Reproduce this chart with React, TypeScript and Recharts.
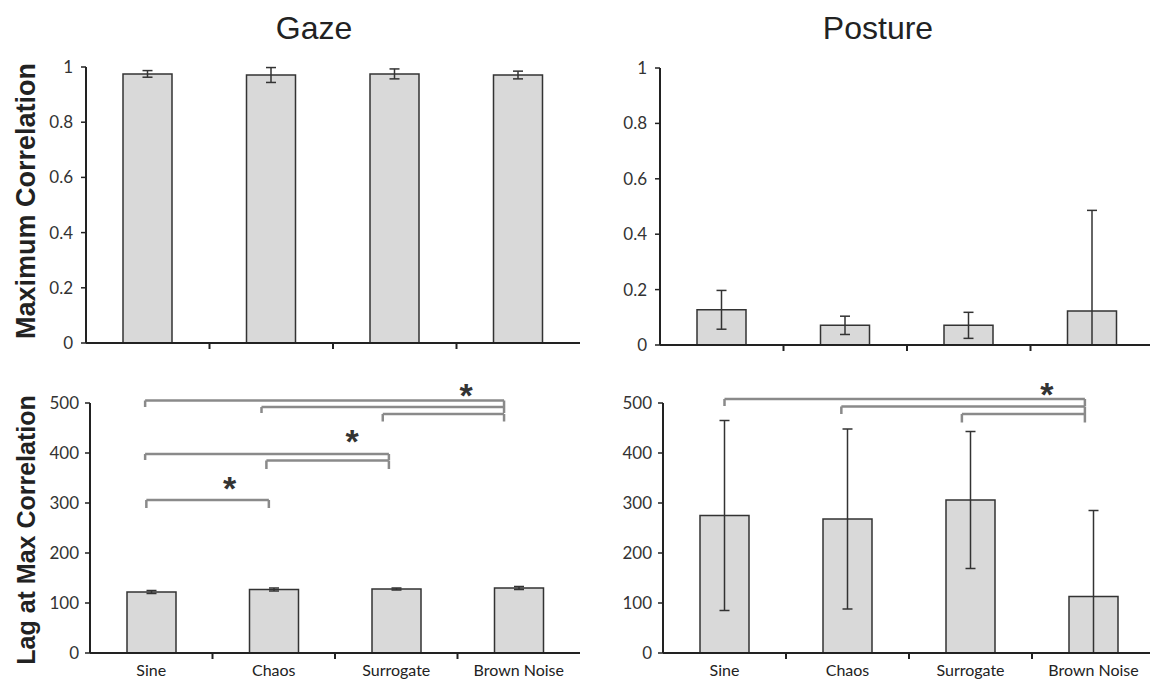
import { BarChart, Bar, XAxis, YAxis, ErrorBar, ReferenceLine, ReferenceDot } from 'recharts';

const categories = ['Sine', 'Chaos', 'Surrogate', 'Brown Noise'];

const gazeCorr = [0.975, 0.971, 0.975, 0.971];
const gazeCorrErr = [0.012, 0.027, 0.018, 0.014];
const postureCorr = [0.127, 0.071, 0.071, 0.123];
const postureCorrErr = [[0.07, 0.07], [0.033, 0.033], [0.047, 0.047], [0.123, 0.363]];

const gazeLag = [122, 127, 128, 130];
const gazeLagErr = [3, 3, 2, 3];
const postureLag = [275, 268, 306, 113];
const postureLagErr = [[190, 190], [180, 180], [137, 137], [113, 172]];

const corrTicks = [0, 0.2, 0.4, 0.6, 0.8, 1];
const lagTicks = [0, 100, 200, 300, 400, 500];

// significance brackets: from/to on a 0..4 category scale, y in data units, drop in data units
const gazeBrackets = [
  { from: 0.45, to: 3.38, y: 505, drop: 13 },
  { from: 1.4, to: 3.38, y: 492, drop: 12 },
  { from: 2.39, to: 3.38, y: 478, drop: 15 },
  { from: 0.45, to: 2.44, y: 398, drop: 12 },
  { from: 1.44, to: 2.44, y: 385, drop: 17 },
  { from: 0.46, to: 1.46, y: 306, drop: 16 },
];
const gazeStars = [
  { x: 3.07, y: 532 },
  { x: 2.14, y: 440 },
  { x: 1.14, y: 346 },
];
const postureBrackets = [
  { from: 0.5, to: 3.43, y: 508, drop: 14 },
  { from: 1.45, to: 3.43, y: 493, drop: 15 },
  { from: 2.43, to: 3.43, y: 478, drop: 17 },
];
const postureStars = [{ x: 3.12, y: 533 }];

const INK = '#222';
const BAR_FILL = '#d9d9d9';
const BRACKET = '#8a8a8a';
const TICK_FONT = 'Lato, "Liberation Sans", sans-serif';
const TITLE_FONT = '"Liberation Sans", Arial, sans-serif';

const TICK_DROP = 6;
const TICK_GAP = 4;

function makeXTick(showLabels: boolean) {
  return (props: any) => {
    const { x, y, payload } = props;
    const v = payload.value;
    const axisY = y - TICK_DROP - TICK_GAP;
    if (Number.isInteger(v)) {
      return <line x1={x} x2={x} y1={axisY} y2={axisY + TICK_DROP} stroke={INK} strokeWidth={2} />;
    }
    if (!showLabels) return <g />;
    return (
      <text x={x} y={axisY + 16} textAnchor="middle" dominantBaseline="central"
        fontFamily={TICK_FONT} fontSize={16} fill={INK}>
        {categories[Math.floor(v)]}
      </text>
    );
  };
}

interface Bracket { from: number; to: number; y: number; drop: number }
interface Star { x: number; y: number }

interface PanelProps {
  left: number;
  top: number;
  width: number;
  height: number;
  marginTop: number;
  axisWidth: number;
  axisHeight: number;
  values: number[];
  errors: (number | number[])[];
  yTicks: number[];
  yMax: number;
  yTitle?: string;
  titleSize?: number;
  titleShift?: number;
  showLabels: boolean;
  tickMargin: number;
  brackets?: Bracket[];
  stars?: Star[];
}

function Panel(p: PanelProps) {
  // each category sits in the middle of its unit slot on a 0..4 scale
  const data = categories.map((name, i) => ({ name, pos: i + 0.5, value: p.values[i], err: p.errors[i] }));
  const xTicks = p.showLabels ? [0.5, 1, 1.5, 2, 2.5, 3, 3.5] : [1, 2, 3];

  const bracketLines = (p.brackets || []).flatMap((b, i) => [
    <ReferenceLine key={`h${i}`} ifOverflow="visible" stroke={BRACKET} strokeWidth={2.5}
      segment={[{ x: b.from, y: b.y }, { x: b.to, y: b.y }]} />,
    <ReferenceLine key={`l${i}`} ifOverflow="visible" stroke={BRACKET} strokeWidth={2.5}
      segment={[{ x: b.from, y: b.y }, { x: b.from, y: b.y - b.drop }]} />,
    <ReferenceLine key={`r${i}`} ifOverflow="visible" stroke={BRACKET} strokeWidth={2.5}
      segment={[{ x: b.to, y: b.y }, { x: b.to, y: b.y - b.drop }]} />,
  ]);

  const starDots = (p.stars || []).map((s, i) => (
    <ReferenceDot key={`s${i}`} x={s.x} y={s.y} r={0} ifOverflow="visible"
      shape={(sp: any) => (
        <text x={sp.cx} y={sp.cy} dy="0.58em" textAnchor="middle" fontFamily={TITLE_FONT}
          fontWeight="bold" fontSize={34} fill="#333">*</text>
      )} />
  ));

  const yTitle = p.yTitle;
  const titleLabel = yTitle
    ? {
        value: yTitle,
        content: (lp: any) => {
          const vb = lp.viewBox;
          const cx = vb.x + 35;
          const cy = vb.y + vb.height / 2 + (p.titleShift || 0);
          return (
            <text x={cx} y={cy} transform={`rotate(-90, ${cx}, ${cy})`} textAnchor="middle"
              fontFamily={TITLE_FONT} fontWeight="bold" fontSize={p.titleSize || 25} fill={INK}>
              {yTitle}
            </text>
          );
        },
      }
    : undefined;

  return (
    <div style={{ position: 'absolute', left: p.left, top: p.top }}>
      <BarChart width={p.width} height={p.height} data={data} barSize={49}
        margin={{ top: p.marginTop, right: 0, bottom: 0, left: 0 }}>
        <XAxis dataKey="pos" type="number" domain={[0, 4]} allowDataOverflow ticks={xTicks}
          interval={0} height={p.axisHeight} tickLine={false} tick={makeXTick(p.showLabels)}
          tickSize={TICK_DROP} tickMargin={TICK_GAP} axisLine={{ stroke: INK, strokeWidth: 2 }} />
        <YAxis type="number" domain={[0, p.yMax]} allowDataOverflow ticks={p.yTicks} interval={0}
          width={p.axisWidth} tickSize={5} tickMargin={p.tickMargin}
          axisLine={{ stroke: INK, strokeWidth: 2 }} tickLine={{ stroke: INK, strokeWidth: 1.5 }}
          tick={{ fontFamily: TICK_FONT, fontSize: 17, fill: '#333' }} label={titleLabel} />
        <Bar dataKey="value" fill={BAR_FILL} stroke="#333" strokeWidth={1.5}
          isAnimationActive={false}>
          <ErrorBar dataKey="err" width={5} stroke="#333" strokeWidth={1.5} />
        </Bar>
        {bracketLines}
        {starDots}
      </BarChart>
    </div>
  );
}

export default function App() {
  return (
    <div style={{ position: 'absolute', left: 0, top: 0, width: 1150, height: 680, overflow: 'hidden', background: '#fff' }}>
      <div style={{ position: 'absolute', left: 214, top: 11, width: 200, textAlign: 'center', fontFamily: TITLE_FONT, fontSize: 32, lineHeight: '34px', color: INK }}>
        Gaze
      </div>
      <div style={{ position: 'absolute', left: 778, top: 11, width: 200, textAlign: 'center', fontFamily: TITLE_FONT, fontSize: 32, lineHeight: '34px', color: INK }}>
        Posture
      </div>
      <Panel left={0} top={0} width={580} height={370} marginTop={67} axisWidth={86} axisHeight={27}
        values={gazeCorr} errors={gazeCorrErr} yTicks={corrTicks} yMax={1}
        yTitle="Maximum Correlation" titleSize={27} titleShift={-4} showLabels={false} tickMargin={8} />
      <Panel left={580} top={0} width={574} height={370} marginTop={68} axisWidth={80} axisHeight={25}
        values={postureCorr} errors={postureCorrErr} yTicks={corrTicks} yMax={1}
        showLabels={false} tickMargin={8} />
      <Panel left={0} top={370} width={580} height={310} marginTop={33} axisWidth={90} axisHeight={27}
        values={gazeLag} errors={gazeLagErr} yTicks={lagTicks} yMax={500}
        yTitle="Lag at Max Correlation" titleSize={25} titleShift={2} showLabels={true} tickMargin={6}
        brackets={gazeBrackets} stars={gazeStars} />
      <Panel left={580} top={370} width={575} height={310} marginTop={33} axisWidth={83} axisHeight={27}
        values={postureLag} errors={postureLagErr} yTicks={lagTicks} yMax={500}
        showLabels={true} tickMargin={6} brackets={postureBrackets} stars={postureStars} />
    </div>
  );
}
